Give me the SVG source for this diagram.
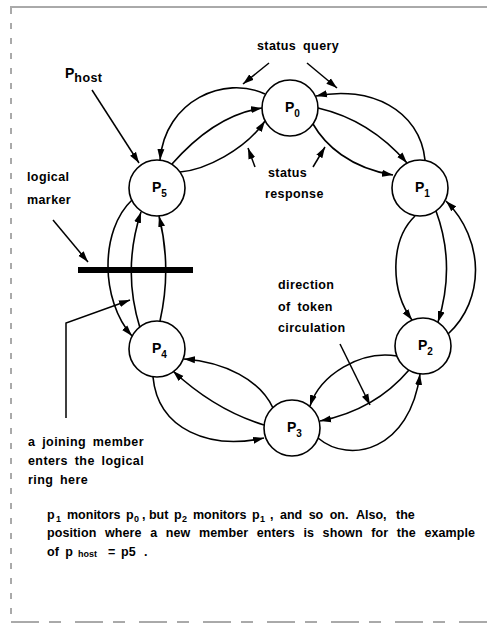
<svg xmlns="http://www.w3.org/2000/svg" width="487" height="625" viewBox="0 0 487 625">
<style>
  .node { fill: #fff; stroke: #000; stroke-width: 1.6; }
  .lbl { font-family: "Liberation Sans", Arial, sans-serif; font-weight: bold; font-size: 14px; fill: #000; }
  .sub { font-size: 10px; }
  .arc { fill: none; stroke: #000; stroke-width: 1.6; marker-end: url(#ah); }
  .ptr { fill: none; stroke: #000; stroke-width: 1.5; marker-end: url(#ah); }
  .t { font-family: "Liberation Sans", Arial, sans-serif; font-weight: bold; font-size: 12.5px; letter-spacing: 0.4px; word-spacing: 3px; fill: #000; }
  .cap { font-family: "Liberation Sans", Arial, sans-serif; font-weight: bold; font-size: 12.5px; fill: #000; }
  .cs { font-size: 9px; }
  .frame { fill: none; stroke: #555; stroke-width: 1; }
</style>
<defs>
  <marker id="ah" markerUnits="userSpaceOnUse" markerWidth="11" markerHeight="8" refX="11" refY="4" orient="auto">
    <path d="M0,0.5 L11,4 L0,7.5 z" fill="#000"/>
  </marker>
</defs>
<rect width="487" height="625" fill="#fff"/>
<g id="frame">
  <path class="frame" d="M10,7 L487,7" stroke="#222" stroke-width="1.4"/>
  <path class="frame" d="M11,8 L11,622" stroke-dasharray="6,9"/>
  <path class="frame" d="M11,622 L487,622" stroke-dasharray="28,10,12,14"/>
</g>
<g id="connectors">
  <!-- p5 - p0 -->
  <path class="arc" d="M265,94 C225,75 165,100 160,160"/>
  <path class="arc" d="M172,164 Q215,115 262,108"/>
  <path class="arc" d="M180,172 C205,170 245,150 265,121"/>
  <!-- p0 - p1 -->
  <path class="arc" d="M425,160 C420,110 370,85 316,96"/>
  <path class="arc" d="M318,108 Q370,120 407,163"/>
  <path class="arc" d="M313,124 C325,145 350,168 393,175"/>
  <!-- p1 - p2 -->
  <path class="arc" d="M415,216 C390,240 390,290 412,320"/>
  <path class="arc" d="M436,211 Q456,265 438,322"/>
  <path class="arc" d="M448,334 C485,300 485,240 446,201"/>
  <!-- p2 - p3 -->
  <path class="arc" d="M397,356 C360,350 320,375 310,406"/>
  <path class="arc" d="M409,370 Q375,410 320,421"/>
  <path class="arc" d="M318,438 C350,465 410,450 420,374"/>
  <!-- p3 - p4 -->
  <path class="arc" d="M273,408 C260,380 225,362 184,359"/>
  <path class="arc" d="M264,425 Q215,410 173,371"/>
  <path class="arc" d="M153,377 C158,430 210,450 264,438"/>
  <!-- p4 - p5 -->
  <path class="arc" d="M132,200 C100,230 100,300 132,336"/>
  <path class="arc" d="M140,328 Q122,270 141,212"/>
  <path class="arc" d="M160,321 Q172,268 159,216"/>
  <!-- pointer arrows -->
  <path class="ptr" d="M269,63 L243,84"/>
  <path class="ptr" d="M307,63 L337,88"/>
  <path class="ptr" d="M255,167 L248,148"/>
  <path class="ptr" d="M313,167 L325,147"/>
  <path class="ptr" d="M92,90 L139,163"/>
  <path class="ptr" d="M53,220 L88,262"/>
  <path class="ptr" d="M66,418 L66,323 L130,300"/>
  <path class="ptr" d="M340,344 L370,405"/>
</g>
<g id="marker-bar">
  <rect x="78" y="267" width="115" height="6" fill="#000"/>
</g>
<g id="p0"><circle class="node" cx="290" cy="108" r="28"/><text class="lbl" x="285" y="112">P<tspan class="sub" dy="5">0</tspan></text></g>
<g id="p1"><circle class="node" cx="420" cy="188" r="28"/><text class="lbl" x="415" y="192">P<tspan class="sub" dy="5">1</tspan></text></g>
<g id="p2"><circle class="node" cx="423" cy="346" r="28"/><text class="lbl" x="418" y="350">P<tspan class="sub" dy="5">2</tspan></text></g>
<g id="p3"><circle class="node" cx="292" cy="428" r="28"/><text class="lbl" x="287" y="432">P<tspan class="sub" dy="5">3</tspan></text></g>
<g id="p4"><circle class="node" cx="157" cy="349" r="28"/><text class="lbl" x="152" y="353">P<tspan class="sub" dy="5">4</tspan></text></g>
<g id="p5"><circle class="node" cx="157" cy="188" r="28"/><text class="lbl" x="152" y="192">P<tspan class="sub" dy="5">5</tspan></text></g>
<g id="annotations">
  <text class="t" x="257" y="50">status query</text>
  <text class="t" x="268" y="177">status</text>
  <text class="t" x="265" y="198">response</text>
  <text class="lbl" x="65" y="78" font-size="16">P<tspan class="t" dy="4">host</tspan></text>
  <text class="t" x="27" y="181">logical</text>
  <text class="t" x="27" y="204">marker</text>
  <text class="t" x="278" y="289">direction</text>
  <text class="t" x="278" y="311">of token</text>
  <text class="t" x="278" y="332">circulation</text>
  <text class="t" x="28" y="446">a joining member</text>
  <text class="t" x="28" y="465">enters the logical</text>
  <text class="t" x="28" y="484">ring here</text>
</g>
<g id="caption">
  <text class="cap" y="519"><tspan x="47">p</tspan><tspan class="cs" x="56" dy="3">1</tspan><tspan x="67" dy="-3">monitors</tspan><tspan x="126">p</tspan><tspan class="cs" x="134" dy="3">0</tspan><tspan x="142" dy="-3">, but</tspan><tspan x="174">p</tspan><tspan class="cs" x="182" dy="3">2</tspan><tspan x="193" dy="-3">monitors</tspan><tspan x="252">p</tspan><tspan class="cs" x="260" dy="3">1</tspan><tspan x="270" dy="-3" word-spacing="3">, and so on.</tspan><tspan x="356" word-spacing="6">Also, the</tspan></text>
  <text class="cap" x="47" y="537" textLength="428" lengthAdjust="spacing" word-spacing="5">position where a new member enters  is shown for the example</text>
  <text class="cap" y="556"><tspan x="47" word-spacing="3">of p</tspan><tspan class="cs" x="78" dy="1">host</tspan><tspan x="108" dy="-1">=</tspan><tspan x="121">p5</tspan><tspan x="144">.</tspan></text>
</g>
</svg>
